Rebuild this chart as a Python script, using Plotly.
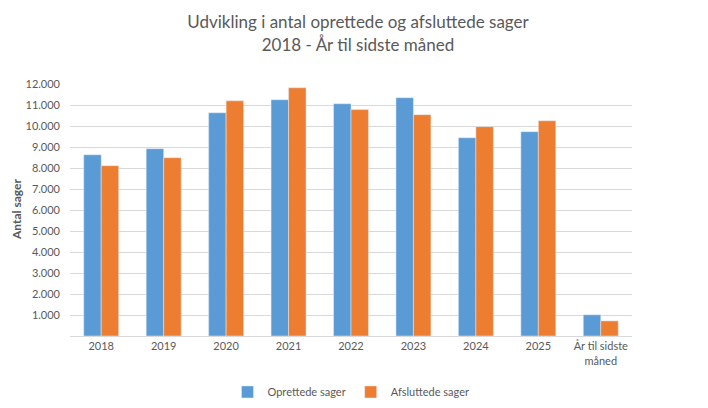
import plotly.graph_objects as go

categories = ["2018", "2019", "2020", "2021", "2022", "2023", "2024", "2025", "År til sidste<br>måned"]
oprettede = [8630, 8920, 10630, 11250, 11060, 11350, 9440, 9730, 1010]
afsluttede = [8110, 8490, 11200, 11820, 10780, 10540, 9970, 10250, 720]
tick_vals = [1000, 2000, 3000, 4000, 5000, 6000, 7000, 8000, 9000, 10000, 11000, 12000]
tick_text = ["1.000", "2.000", "3.000", "4.000", "5.000", "6.000", "7.000", "8.000", "9.000", "10.000", "11.000", "12.000"]

FONT = "Lato, 'Open Sans', sans-serif"

fig = go.Figure()
fig.add_trace(go.Bar(name="Oprettede sager", x=categories, y=oprettede, marker_color="#5B9BD5"))
fig.add_trace(go.Bar(name="Afsluttede sager", x=categories, y=afsluttede, marker_color="#ED7D31"))

fig.update_layout(
    width=700, height=400,
    paper_bgcolor="white", plot_bgcolor="white",
    barmode="group", bargap=0.44, bargroupgap=0,
    margin=dict(l=62, r=76, t=76, b=72, autoexpand=False),
    font=dict(family=FONT, color="#595959", size=11),
    title=dict(text="Udvikling i antal oprettede og afsluttede sager<br>2018 - År til sidste måned",
               x=0.5, xanchor="center", yref="container", y=0.949, yanchor="top",
               font=dict(family=FONT, size=17, color="#595959")),
    legend=dict(orientation="h", x=0.5, xanchor="center", y=-0.222, yanchor="middle",
                font=dict(size=11, color="#595959"), itemwidth=30),
    showlegend=True,
    annotations=[dict(text="<b>Antal sager</b>", xref="paper", yref="paper", x=-0.096, y=0.5,
                      xanchor="center", yanchor="middle", textangle=-90, showarrow=False,
                      font=dict(size=12, color="#595959"))],
)
fig.update_xaxes(showline=True, linecolor="#D9D9D9", linewidth=1, ticks="", automargin=False,
                 tickfont=dict(size=11, color="#595959"))
fig.update_yaxes(range=[0, 12000], tickvals=tick_vals, ticktext=tick_text, automargin=False,
                 showgrid=True, gridcolor="#D9D9D9", gridwidth=1, zeroline=False,
                 ticklabelstandoff=9,
                 tickfont=dict(size=11, color="#595959"))

fig.write_html("out.html")
